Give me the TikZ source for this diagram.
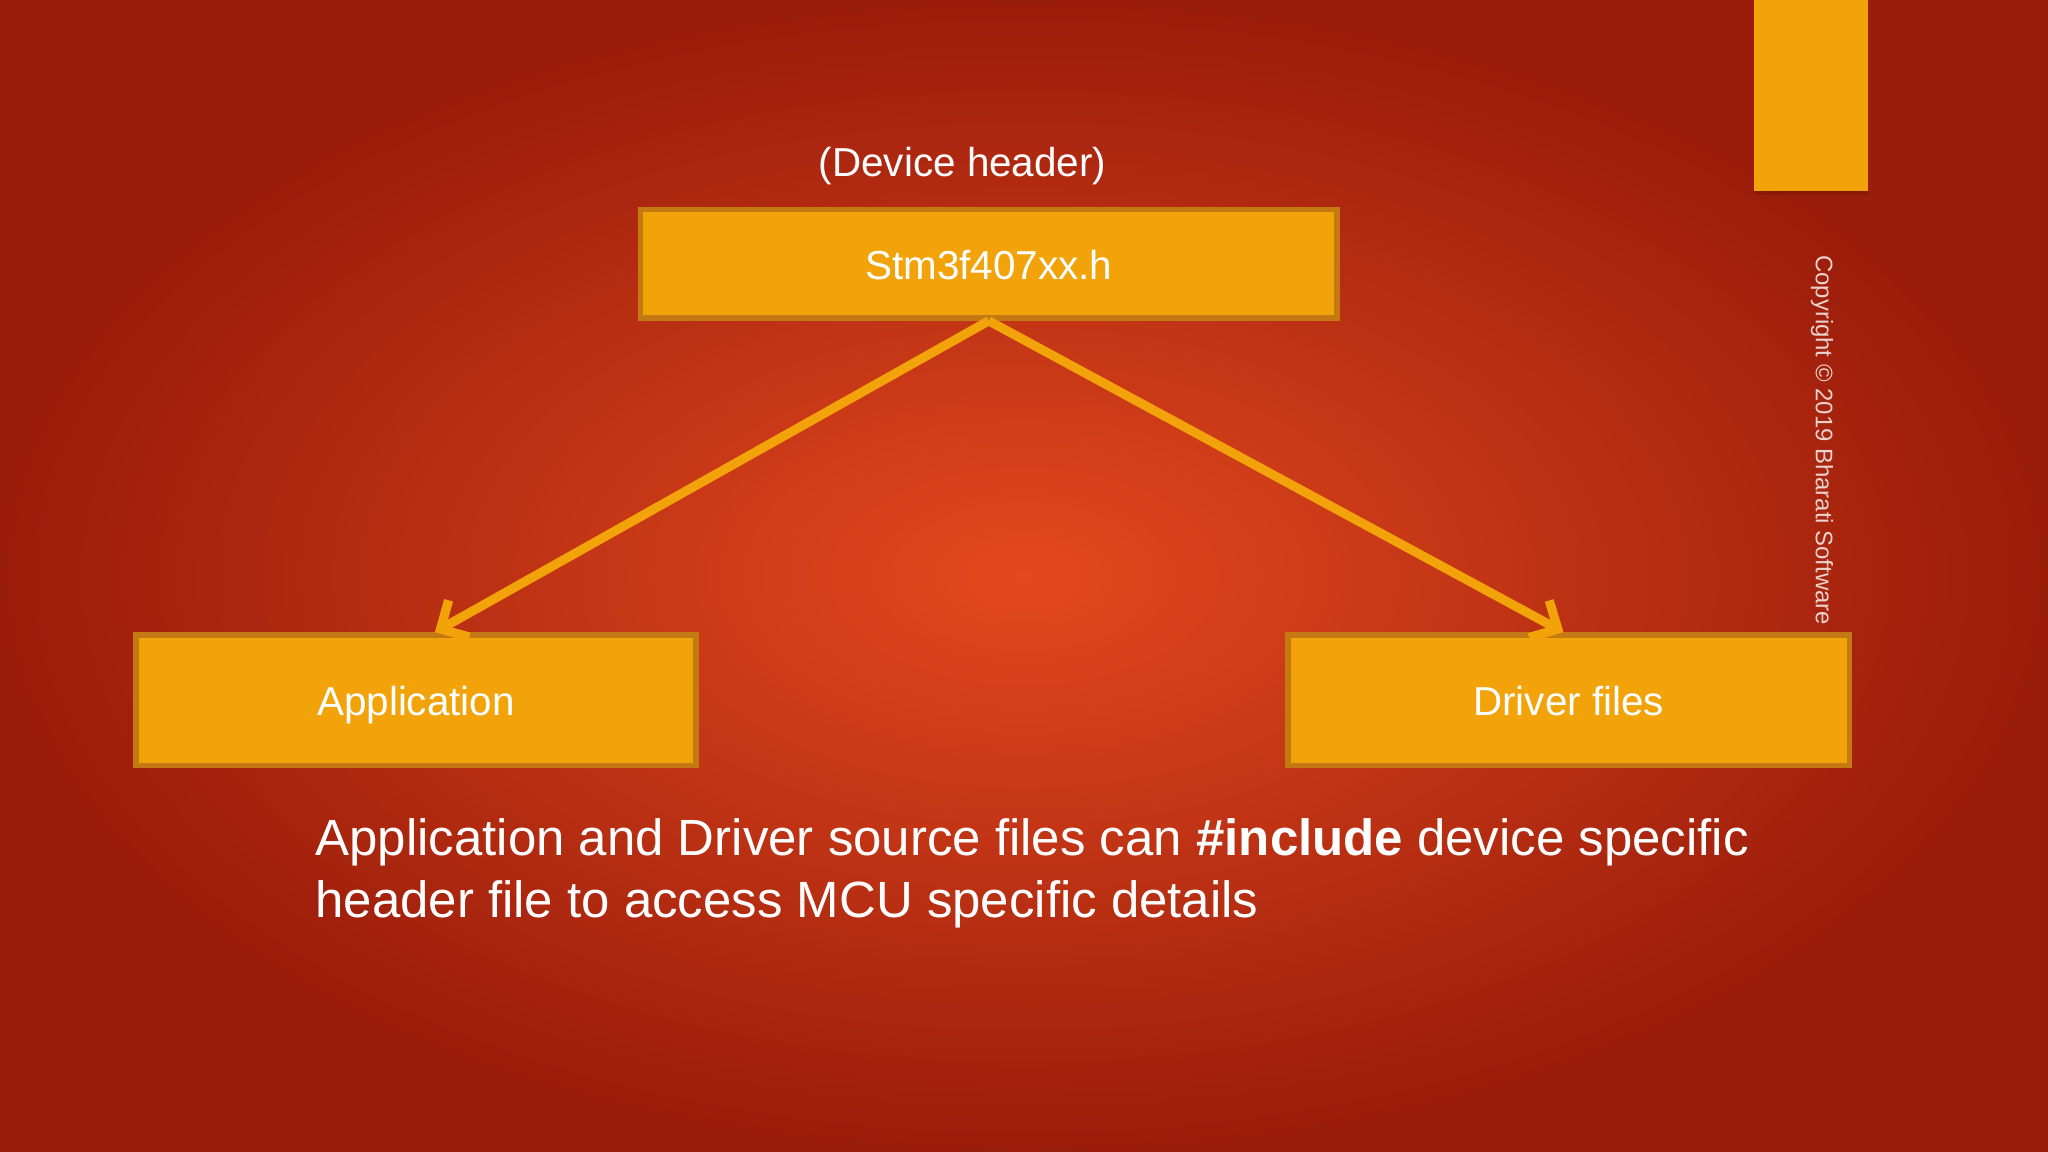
\documentclass[tikz,border=0pt]{standalone}
\usepackage{fontspec}
\setmainfont{Liberation Sans}
\usetikzlibrary{arrows.meta}
\definecolor{boxfill}{HTML}{F2A30A}
\definecolor{boxline}{HTML}{C47A12}
\definecolor{bgin}{HTML}{E3491E}
\definecolor{bgout}{HTML}{9A1C0A}
\tikzset{
  box/.style={draw=boxline,line width=1.6pt,fill=boxfill,inner sep=0pt,text=white,text height=11.5pt,text depth=2.5pt,font=\fontsize{11.5}{14}\selectfont},
  link/.style={draw=boxfill,line width=2.6pt,-{Straight Barb[length=6pt,width=12pt,line width=2.6pt]}}
}
\begin{document}
\begin{tikzpicture}[x=0.013061cm,y=-0.013061cm]
\useasboundingbox (0,0) rectangle (1568,882);
\shade[inner color=bgin,outer color=bgout] (0,0) rectangle (1568,882);
\fill[boxfill] (1343,0) rectangle (1430,146);
\fill[bgout!80!black,opacity=0.5] (1343,146) rectangle (1430,149);
\node[box,minimum width={533*0.013061cm},minimum height={83*0.013061cm}] (hdr) at (757,202) {Stm3f407xx.h};
\node[text=white,font=\fontsize{11.5}{14}\selectfont] (lbl) at (737,127) {(Device header)};
\node[box,minimum width={429*0.013061cm},minimum height={100*0.013061cm}] (app) at (318.5,536) {Application};
\node[box,minimum width={430*0.013061cm},minimum height={100*0.013061cm}] (drv) at (1201,536) {Driver files};
\coordinate (a1) at (333,484);
\coordinate (d1) at (1197,484);
\draw[link] (hdr.south) -- (a1);
\draw[link] (hdr.south) -- (d1);
\node[text=white,anchor=north west,align=left,font=\fontsize{14.5}{17.6}\selectfont] (txt) at (232,617)
 {Application and Driver source files can \textbf{\#include} device specific\\header file to access MCU specific details};
\node[rotate=-90,text=white!80!bgout,font=\fontsize{6.8}{8}\selectfont] (cpy) at (1395,337) {Copyright © 2019 Bharati Software};
\end{tikzpicture}
\end{document}
